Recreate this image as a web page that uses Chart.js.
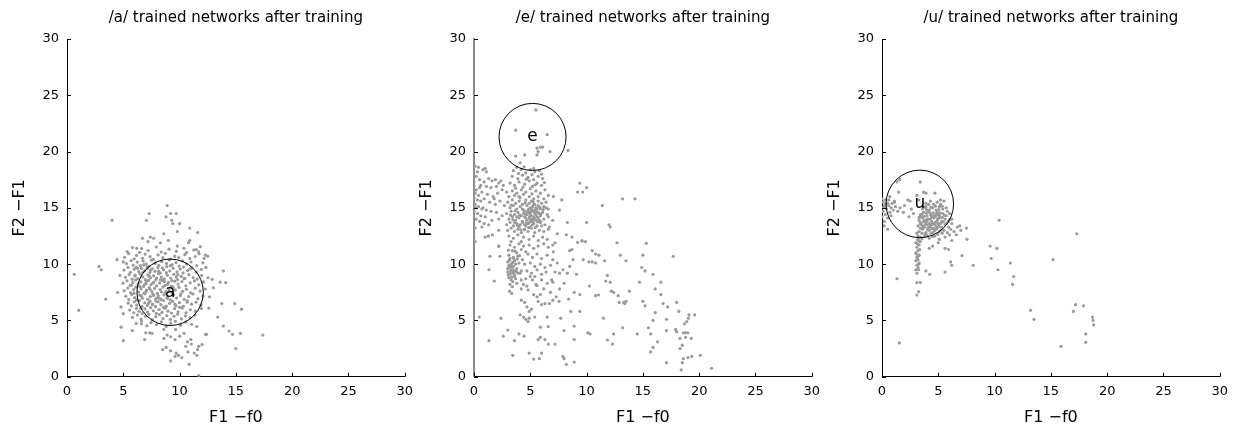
<!DOCTYPE html>
<html><head><meta charset="utf-8">
<script src="https://cdn.jsdelivr.net/npm/chart.js@4"></script>
<style>
body{margin:0;background:#fff;width:1236px;height:426px;overflow:hidden;position:relative}
canvas{position:absolute;top:0}
</style></head><body>
<canvas id="c0" width="420" height="426" style="left:0px"></canvas>
<canvas id="c1" width="420" height="426" style="left:407px"></canvas>
<canvas id="c2" width="420" height="426" style="left:815px"></canvas>
<script>
const titles = ['/a/ trained networks after training','/e/ trained networks after training','/u/ trained networks after training'];
const xLabel = 'F1 \u2212f0';
const yLabel = 'F2 \u2212F1';
const axisMin = 0, axisMax = 30, tickStep = 5;
const vowelLabels = ['a','e','u'];
const circleX = [9.16, 5.2, 3.36];
const circleY = [7.5, 21.3, 15.35];
const circleR = [2.95, 2.98, 3.0];

const aPoints = [
[8.9,15.2],[8.8,14.2],[9.2,14.5],[9.7,14.5],[9.3,13.9],[9.4,13.6],[10.0,13.6],[10.9,13.2],[11.6,12.8],[7.3,14.5],[7.05,13.9],[4.0,13.9],[12.5,10.7],[12.3,10.8],
[6.7,12.3],[7.4,12.4],[7.2,12.0],[7.7,12.3],[8.3,11.9],[9.0,12.1],[9.8,11.6],[10.8,11.9],[10.9,12.1],[11.5,11.3],[11.7,11.1],[6.2,11.4],[8.6,12.7],[9.8,12.9],
[5.35,11.12],[5.82,11.47],[6.46,11.05],[6.63,11.38],[7.21,11.21],[7.93,11.52],[8.37,11.08],[9.06,11.33],[9.71,11.14],[10.38,11.41],[10.62,11.02],[11.27,11.26],[11.84,11.55],
[5.12,10.61],[5.47,10.93],[5.96,10.48],[6.18,10.77],[6.71,10.52],[6.94,10.89],[7.38,10.66],[7.66,10.43],[8.09,10.82],[8.52,10.57],[8.73,10.96],[9.18,10.44],[9.57,10.71],[9.93,10.58],[10.46,10.85],[10.91,10.49],[11.39,10.68],[11.72,10.93],[12.18,10.51],
[5.28,10.05],[5.69,10.31],[5.87,9.92],[6.24,10.18],[6.52,9.86],[6.77,10.27],[7.03,10.02],[7.29,9.81],[7.51,10.35],[7.84,10.11],[8.16,9.89],[8.41,10.22],[8.83,10.06],[9.07,10.37],[9.34,9.95],[9.68,10.14],[9.96,9.83],[10.27,10.29],[10.63,10.01],[11.02,10.19],[11.53,9.87],[12.07,10.12],
[5.06,9.47],[5.41,9.71],[5.63,9.28],[5.97,9.55],[6.14,9.74],[6.38,9.33],[6.61,9.62],[6.89,9.41],[7.12,9.77],[7.36,9.25],[7.58,9.58],[7.82,9.36],[8.07,9.69],[8.29,9.22],[8.58,9.51],[8.86,9.78],[9.13,9.39],[9.42,9.64],[9.77,9.31],[10.05,9.57],[10.36,9.74],[10.72,9.43],[11.09,9.66],[11.48,9.29],[11.93,9.53],[12.34,9.71],
[5.19,8.83],[5.52,9.07],[5.78,8.66],[6.03,8.94],[6.27,8.71],[6.49,9.12],[6.73,8.87],[6.95,8.62],[7.18,9.03],[7.41,8.78],[7.69,8.96],[7.91,8.64],[8.13,9.15],[8.38,8.85],[8.64,8.69],[8.92,9.01],[9.21,8.77],[9.49,9.09],[9.82,8.63],[10.14,8.92],[10.47,8.74],[10.83,9.06],[11.21,8.81],[11.57,8.67],[11.96,8.98],[12.52,8.79],
[4.97,8.31],[5.33,8.52],[5.61,8.09],[5.84,8.37],[6.09,8.58],[6.32,8.14],[6.56,8.43],[6.79,8.02],[7.01,8.29],[7.24,8.55],[7.47,8.18],[7.73,8.41],[7.96,8.06],[8.22,8.33],[8.47,8.57],[8.71,8.12],[9.01,8.38],[9.26,8.04],[9.58,8.49],[9.87,8.23],[10.21,8.45],[10.56,8.08],[10.94,8.34],[11.33,8.51],[11.71,8.16],[12.13,8.42],
[5.08,7.63],[5.39,7.87],[5.64,7.46],[5.91,7.74],[6.12,7.95],[6.37,7.52],[6.58,7.81],[6.84,7.43],[7.06,7.69],[7.31,7.92],[7.54,7.57],[7.78,7.84],[8.03,7.41],[8.27,7.73],[8.52,7.96],[8.79,7.55],[9.04,7.82],[9.33,7.48],[9.62,7.71],[9.94,7.93],[10.28,7.58],[10.61,7.77],[10.97,7.45],[11.38,7.86],[11.82,7.61],[12.29,7.79],
[5.23,7.14],[5.49,6.86],[5.76,7.31],[6.01,7.02],[6.22,6.83],[6.47,7.24],[6.69,6.97],[6.93,7.36],[7.17,6.88],[7.39,7.11],[7.63,7.33],[7.88,6.91],[8.11,7.19],[8.36,6.84],[8.62,7.27],[8.89,7.04],[9.17,6.82],[9.46,7.29],[9.74,6.99],[10.07,7.21],[10.42,6.87],[10.81,7.12],[11.19,7.35],[11.63,6.93],[12.08,7.17],
[5.44,6.53],[5.71,6.29],[5.98,6.66],[6.19,6.38],[6.43,6.75],[6.66,6.24],[6.91,6.57],[7.14,6.33],[7.37,6.71],[7.62,6.46],[7.86,6.22],[8.09,6.64],[8.34,6.41],[8.58,6.77],[8.83,6.27],[9.11,6.52],[9.38,6.69],[9.67,6.31],[9.98,6.58],[10.33,6.26],[10.69,6.73],[11.06,6.44],[11.47,6.62],[11.89,6.35],
[5.57,5.92],[5.93,5.68],[6.17,6.07],[6.41,5.79],[6.68,5.61],[6.92,6.02],[7.16,5.74],[7.43,6.13],[7.67,5.86],[7.93,5.63],[8.18,5.97],[8.44,5.71],[8.72,6.09],[8.97,5.82],[9.28,5.66],[9.56,6.04],[9.87,5.77],[10.24,6.11],[10.58,5.69],[10.96,5.94],[11.42,5.81],[11.94,6.06],
[5.81,5.27],[6.26,5.48],[6.59,5.12],[6.97,5.36],[7.27,5.54],[7.58,5.07],[7.89,5.33],[8.21,5.51],[8.53,5.16],[8.86,5.42],[9.19,5.09],[9.51,5.38],[9.83,5.55],[10.17,5.13],[10.52,5.41],[10.93,5.22],[11.36,5.47],
[6.14,4.73],[6.62,4.94],[7.09,4.52],[7.47,4.81],[7.96,4.63],[8.39,4.88],[8.81,4.47],[9.22,4.76],[9.63,4.92],[10.08,4.58],[10.56,4.84],[11.07,4.66],[11.52,4.45],
[6.05,9.02],[6.33,8.27],[6.62,7.18],[6.81,9.93],[7.09,8.48],[7.26,6.53],[7.44,9.47],[7.71,7.22],[7.97,8.76],[8.24,6.93],[8.46,9.66],[8.68,7.38],[8.93,8.19],[6.17,6.79],[6.48,8.01],[6.74,9.28],[7.02,7.56],[7.33,8.91],[7.59,6.39],[7.82,10.06],[8.06,7.03],[8.31,8.62],[8.57,6.18],[8.82,9.24],[9.08,7.66],[9.31,8.53],[9.59,6.44],[9.85,9.07],[10.12,7.37],[10.39,8.71],[10.67,6.62],[10.93,9.58],[5.72,8.13],[5.95,7.42],[6.28,9.63],[6.55,6.07],[6.87,8.17],[7.13,9.61],[7.38,7.77],[7.64,8.34],[7.89,6.72],[8.14,9.38],[8.39,7.54],[8.65,8.44],[8.91,6.96],[9.17,9.86],[9.43,7.93],[9.71,8.86],[9.99,6.16],[10.31,9.22],
[4.8,4.4],[5.0,3.2],[5.0,5.6],[5.8,4.1],[6.9,3.3],[6.6,4.7],[7.0,3.9],[7.35,3.9],[7.55,3.85],[8.6,4.2],[8.9,3.7],[8.6,3.4],[9.2,3.55],[9.65,4.2],[10.0,3.6],[9.6,3.3],[8.8,2.6],[9.2,2.3],[9.7,2.1],[9.9,1.9],[9.2,1.4],[9.6,1.8],[10.4,3.85],[10.7,3.1],[10.55,2.7],[11.0,3.3],[11.05,2.9],[10.75,2.2],[11.3,2.1],[11.55,1.9],[11.6,2.4],[10.85,1.1],[11.7,2.7],[12.0,2.85],[12.4,3.76],[11.7,0.1],[8.5,2.4],[10.2,1.7],
[13.9,4.5],[14.7,3.76],[15.0,2.5],[15.4,3.85],[14.4,4.06],[13.4,5.3],[13.75,6.5],[14.9,6.5],[15.5,6.0],[13.6,8.4],[14.1,8.35],[13.9,9.4],[12.9,8.65],[13.0,7.9],[12.65,7.1],[12.6,6.1],[17.4,3.7],[12.3,3.76],
[0.65,9.1],[1.04,5.9],[2.84,9.8],[3.05,9.5],[3.44,6.9],[4.44,10.4],[4.7,9.0],[4.5,7.5],[4.8,6.2],[5.0,10.2]
];

const ePoints = [
[5.5,23.7],[3.7,21.9],[6.5,21.5],[5.6,20.3],[5.9,20.4],[6.1,20.4],[5.7,20.0],[6.75,20.0],[8.35,20.1],[4.5,19.7],[3.7,19.6],[4.1,19.0],[5.3,18.5],[5.6,19.7],
[0.1,18.7],[0.4,18.6],[0.3,18.2],[0.8,18.4],[1.0,18.5],[1.1,18.2],[0.2,17.8],[0.5,17.5],[0.9,17.3],[1.3,17.6],[1.6,17.4],[1.9,17.5],[2.2,17.2],[2.4,17.4],[2.6,17.0],[2.0,16.9],[1.5,16.8],[1.1,16.9],[0.6,17.0],[0.2,16.6],[0.1,16.3],[0.4,16.1],[0.7,16.4],[1.2,16.2],[1.7,16.0],[2.1,16.3],[2.5,16.6],[2.9,16.4],[0.0,15.9],[0.3,15.7],[0.6,15.6],[0.9,15.8],[1.4,15.5],[1.9,15.3],[2.3,15.6],[2.7,15.2],[0.1,15.3],[0.4,15.1],[0.8,15.0],[1.1,14.8],[1.5,14.7],[2.0,14.6],[0.0,14.7],[0.3,14.5],[0.6,14.3],[1.0,14.2],[0.2,14.0],[0.5,13.8],[0.9,13.6],[1.3,13.5],[0.7,13.3],[0.1,13.2],[1.6,13.9],[2.2,14.0],[2.5,14.3],[0.0,12.4],[0.1,12.0],[1.0,12.4],[1.3,12.5],[2.2,13.0],[2.2,11.6],[0.0,16.9],[0.0,17.3],[0.2,15.0],[0.5,16.8],[1.8,15.8],[0.7,14.9],
[3.5,18.3],[3.8,18.6],[4.2,18.4],[4.6,18.1],[5.0,18.4],[5.4,18.2],[5.8,18.3],[6.0,18.0],[3.4,17.8],[3.9,17.6],[4.3,17.9],[4.8,17.7],[5.3,17.5],[5.7,17.8],[6.1,17.6],[3.2,17.2],[3.6,17.0],[4.0,17.3],[4.5,17.1],[4.9,17.4],[5.2,16.9],[5.6,17.2],[6.0,17.0],[3.4,16.5],[3.8,16.3],[4.2,16.6],[4.6,16.4],[5.0,16.7],[5.5,16.5],[5.9,16.3],[6.3,16.6],[3.1,16.0],[3.6,16.1],[4.1,15.9],[4.4,16.2],[4.9,16.0],[5.3,15.8],[5.7,16.0],[6.2,15.8],[6.6,16.1],
[3.0,15.5],[3.4,15.7],[3.7,15.4],[4.0,15.6],[4.3,15.3],[4.6,15.7],[4.9,15.4],[5.1,15.6],[5.4,15.3],[5.7,15.6],[6.0,15.4],[6.4,15.5],
[3.2,15.0],[3.5,15.2],[3.8,14.9],[4.1,15.1],[4.4,14.8],[4.7,15.2],[4.9,14.9],[5.2,15.1],[5.4,14.8],[5.7,15.2],[5.9,14.9],[6.2,15.1],[6.6,14.9],
[2.9,14.5],[3.3,14.7],[3.6,14.4],[3.9,14.6],[4.2,14.3],[4.5,14.7],[4.7,14.4],[4.9,14.6],[5.1,14.3],[5.3,14.7],[5.5,14.4],[5.7,14.6],[5.9,14.3],[6.1,14.6],[6.5,14.4],
[3.1,14.0],[3.4,14.2],[3.7,13.9],[4.0,14.1],[4.3,13.8],[4.5,14.2],[4.7,13.9],[4.9,14.1],[5.1,13.8],[5.3,14.2],[5.5,13.9],[5.7,14.1],[5.9,13.8],[6.2,14.0],[6.6,14.2],[7.0,13.9],
[2.9,13.5],[3.2,13.7],[3.5,13.4],[3.8,13.6],[4.0,13.3],[4.3,13.7],[4.6,13.4],[4.8,13.6],[5.0,13.3],[5.3,13.6],[5.6,13.4],[5.9,13.7],[6.3,13.5],[6.7,13.3],
[3.0,13.0],[3.3,13.2],[3.6,12.9],[3.9,13.1],[4.2,12.8],[4.5,13.1],[4.8,12.9],[5.1,13.2],[5.4,12.8],[5.8,13.0],[6.2,12.9],[6.6,13.1],
[4.8,14.8],[5.0,14.5],[5.2,14.0],[5.4,14.5],[5.6,14.9],[5.8,14.5],[5.0,15.0],[5.3,15.3],[5.6,14.2],[5.1,14.7],[4.6,14.1],[4.4,14.5],[5.5,15.0],[5.8,13.9],[4.9,13.7],[5.2,13.5],[4.5,13.5],[4.1,13.5],[3.8,14.2],[3.6,13.7],
[4.3,14.9],[4.55,14.45],[4.75,14.65],[4.95,14.25],[5.15,14.85],[5.35,14.05],[5.55,14.65],[5.75,13.85],[5.95,14.45],[6.15,14.85],[4.65,13.65],[4.85,13.25],[5.05,13.95],[5.25,13.75],[5.45,13.25],[5.65,13.75],[4.45,13.05],[4.05,14.35],[3.85,13.45],[3.45,13.95],[3.25,14.35],[3.65,14.75],[4.15,13.05],[5.85,15.05],[4.55,15.45],[5.25,15.55],
[3.7,16.75],[4.35,16.85],[5.15,16.25],[5.45,17.05],[4.65,17.55],[3.95,18.05],[4.45,18.65],[5.15,17.95],[6.25,17.25],[4.0,16.0],[3.3,15.25],[6.4,15.0],[6.0,13.4],
[3.1,12.5],[3.5,12.3],[3.9,12.6],[4.4,12.4],[4.9,12.2],[5.3,12.5],[5.7,12.1],[6.1,12.4],[6.5,12.2],[3.3,12.0],[4.2,12.0],
[3.2,11.7],[3.6,11.5],[4.0,11.8],[4.4,11.6],[3.4,11.2],[3.8,11.0],[4.2,11.3],[4.6,11.1],[3.1,10.8],[3.5,10.6],[3.9,10.7],[4.3,10.4],[3.0,10.2],[3.3,10.0],[3.6,10.3],[4.0,10.1],[4.5,10.0],[3.1,9.7],[3.3,9.5],[3.5,9.8],[3.8,9.6],[4.2,9.4],[3.0,9.3],[3.2,9.1],[3.4,9.3],[3.6,9.0],[3.9,9.2],[3.1,8.8],[3.3,8.6],[3.7,8.7],[3.2,8.2],[3.4,8.0],[3.15,7.6],[3.35,7.4],[3.1,9.9],[3.4,9.7],[3.7,10.0],[3.2,10.5],[3.5,9.2],[3.0,9.6],
[3.25,9.85],[3.45,10.15],[3.15,10.35],[3.55,10.45],[3.05,9.05],[3.35,8.85],[3.55,9.45],[3.75,9.35],[3.25,9.35],[3.45,8.45],[3.65,11.15],[3.85,10.45],[3.05,11.25],[4.05,10.75],
[4.9,11.7],[5.3,11.4],[5.7,11.6],[6.2,11.8],[6.6,11.5],[7.0,11.7],[4.8,10.9],[5.2,10.6],[5.6,10.9],[6.0,10.5],[6.5,10.8],[7.0,10.4],[5.0,10.1],[5.4,9.8],[5.9,10.0],[6.3,9.7],[6.8,9.9],[4.7,9.4],[5.1,9.2],[5.6,9.5],[6.0,9.1],[6.4,9.3],[4.6,8.7],[5.0,8.9],[5.2,8.6],[5.5,8.2],[6.0,8.6],[6.5,8.3],[6.9,8.6],[4.2,8.6],[4.4,8.2],[4.7,8.05],[4.8,7.7],[5.4,8.9],[5.6,8.1],[3.6,8.9],[3.8,8.3],[4.1,9.2],[4.2,7.8],
[5.3,7.3],[5.6,7.1],[5.9,7.3],[5.7,6.7],[6.0,6.4],[6.3,6.5],[4.2,6.8],[4.5,6.6],[4.7,6.2],[4.9,5.8],[5.1,6.0],[4.1,5.5],[4.4,5.3],[4.6,5.1],[4.9,5.2],[5.4,5.3],[6.5,5.3],[6.6,4.45],[4.8,4.9],[5.9,4.4],[7.0,6.8],[6.7,6.5],[7.55,6.7],[7.0,8.4],[7.2,9.3],[7.4,10.1],[7.05,11.1],[7.2,11.9],[7.4,12.7],[8.2,12.6],[8.5,11.2],[8.7,11.3],[8.5,9.8],[7.9,9.5],[7.6,9.2],[8.3,9.2],[8.9,7.5],[9.4,7.3],[4.0,3.8],[4.45,3.6],[3.6,3.2],[3.44,1.9],[4.9,2.1],[5.3,1.57],[5.8,1.6],[6.0,2.1],[5.7,3.3],[5.9,3.5],[6.6,2.9],[7.9,1.8],[8.0,1.6],[8.2,1.1],[8.9,1.3],[8.9,3.3],[8.9,4.5],[8.6,5.8],[9.4,5.8],[3.0,4.15],[2.6,3.6],[1.33,3.2],[0.47,5.3],[2.4,5.2],[1.8,8.5],[1.33,9.5],[1.42,10.7],[2.3,10.7],[1.27,12.5],[1.63,12.6],[2.2,11.6],
[10.1,3.9],[10.3,3.8],[11.5,5.2],[11.85,3.26],[12.3,2.9],[12.4,3.8],[13.2,4.35],[14.5,3.8],[15.5,4.35],[15.7,3.8],[15.9,5.0],[16.1,5.7],[16.3,3.1],[15.9,2.6],[15.7,2.2],[17.1,5.1],[17.1,4.1],[17.1,1.25],[16.8,6.5],[17.2,6.2],[18.0,6.6],[18.2,5.8],[17.9,4.2],[18.0,4.0],[18.3,3.4],[18.5,2.8],[18.3,2.5],[18.6,3.9],[18.8,3.9],[19.0,3.9],[18.8,3.5],[19.3,3.4],[18.7,4.7],[18.9,4.9],[19.05,5.2],[19.1,5.5],[19.6,5.5],[18.6,1.6],[18.5,1.25],[18.4,0.6],[19.0,1.7],[19.35,1.8],[20.1,1.9],[21.1,0.75],
[12.7,11.9],[15.3,11.85],[17.7,10.7],[15.0,10.8],[14.9,9.7],[15.2,9.4],[15.9,9.1],[16.6,8.4],[14.7,8.4],[16.1,7.8],[16.6,7.3],[15.0,6.7],[15.2,6.3],[13.8,7.6],[13.5,6.7],[13.4,6.5],[12.9,6.6],[13.3,6.6],[12.8,7.2],[12.4,7.5],[12.2,7.6],[12.1,8.4],[11.7,8.5],[11.85,9.0],[11.6,10.3],[10.5,11.2],[10.8,10.9],[11.1,10.8],[10.8,10.1],[10.5,10.2],[10.2,10.2],[11.05,7.26],[10.8,7.2],[10.25,8.05],[9.7,10.4],[9.9,12.0],[9.6,12.05],[9.2,11.94],[13.0,10.8],[13.5,10.3],[8.7,12.4],[9.6,12.1],[10.0,13.7],[8.3,13.7],[7.6,14.8],[7.05,16.0],[7.8,15.7],[9.4,17.2],[9.2,16.4],[9.66,16.4],[10.0,16.8],[11.4,15.2],[13.2,15.8],[14.3,15.8],[12.0,13.5],[12.1,13.3],[8.8,10.4],[9.1,9.1],[8.0,8.3],[8.4,6.9],[7.6,7.8],[7.3,7.1],[6.2,7.8],[6.8,7.5],[7.7,5.2],[8.0,4.1],[6.3,3.3],[7.2,2.9]
];

const uPoints = [
[0.0,15.8],[0.1,15.5],[0.3,15.7],[0.5,15.4],[0.2,15.1],[0.4,14.9],[0.6,15.2],[0.8,15.0],[0.1,14.7],[0.3,14.4],[0.7,14.6],[1.0,14.8],[0.5,14.1],[0.2,13.8],[0.0,14.2],[0.9,15.4],[1.2,15.1],[1.4,14.7],[0.6,15.7],[0.3,15.3],[0.0,15.0],[0.8,14.3],[1.6,15.0],[1.9,14.6],[0.2,13.4],[0.5,13.1],[1.1,15.6],[0.7,16.0],[1.33,17.3],[1.57,17.5],[1.48,16.4],[1.1,15.5],[2.3,15.7],[2.5,15.6],[3.1,16.1],[3.7,16.4],[3.9,16.3],[3.25,15.7],[2.4,14.2],[2.8,14.5],[4.7,16.3],[5.2,15.7],[3.4,17.3],[2.0,15.2],[2.6,14.9],
[3.9,15.4],[4.3,15.6],[4.6,15.3],[4.9,15.5],[5.2,15.3],[5.5,15.6],
[3.6,14.9],[3.9,15.1],[4.2,14.8],[4.5,15.0],[4.8,14.8],[5.1,15.1],[5.4,14.9],[5.7,15.0],
[3.4,14.4],[3.7,14.6],[4.0,14.3],[4.3,14.5],[4.6,14.3],[4.9,14.6],[5.1,14.3],[5.4,14.5],[5.7,14.3],[6.0,14.5],
[3.3,13.9],[3.6,14.1],[3.9,13.8],[4.1,14.0],[4.4,13.8],[4.6,14.1],[4.9,13.9],[5.1,14.1],[5.3,13.8],[5.6,14.0],[5.9,13.8],[6.2,14.0],
[3.2,13.4],[3.5,13.6],[3.8,13.3],[4.0,13.5],[4.3,13.3],[4.5,13.6],[4.8,13.4],[5.0,13.6],[5.3,13.3],[5.6,13.5],[5.9,13.3],[6.2,13.6],
[3.3,12.9],[3.6,13.1],[3.9,12.8],[4.2,13.0],[4.5,12.8],[4.8,13.1],[5.1,12.9],[5.5,13.0],[5.8,12.8],[6.1,13.1],
[3.4,12.4],[3.8,12.5],[4.2,12.3],[4.7,12.5],[5.1,12.2],[5.6,12.4],[6.0,12.6],[3.2,12.1],
[4.0,14.0],[4.2,13.6],[4.4,14.2],[4.7,13.7],[3.8,13.9],[4.6,13.2],[4.1,13.2],[3.7,13.8],[4.8,14.4],[4.3,14.0],[3.5,14.2],[4.9,13.2],[5.2,13.6],[5.0,14.4],[4.0,13.8],[3.6,13.4],[4.4,13.5],[3.4,13.7],
[3.55,14.45],[3.75,14.25],[3.95,14.55],[4.15,14.65],[4.35,14.35],[4.55,14.55],[4.75,14.25],[4.95,14.05],[5.15,14.55],[5.35,14.15],[5.55,14.35],[3.45,13.55],[3.65,13.25],[3.85,13.55],[4.05,13.05],[4.25,13.35],[4.45,13.15],[4.65,13.55],[4.85,13.75],[5.05,13.35],[5.25,13.05],[5.45,13.75],[5.75,13.65],[3.55,12.75],[3.85,12.65],[4.35,12.75],[4.65,12.95],[4.95,12.65],[5.35,12.75],[3.95,14.85],[4.35,15.05],[4.75,15.15],[5.05,14.85],[5.35,15.15],[3.75,15.05],[4.15,15.3],[5.8,14.7],[6.0,13.95],[3.3,14.15],[3.4,13.2],[4.0,12.55],[4.5,12.45],[3.55,12.25],[3.2,12.5],[3.1,12.75],
[3.2,12.2],[3.0,11.9],[3.3,11.7],[3.1,11.5],[3.2,11.2],[3.0,11.0],[3.3,10.8],[3.1,10.6],[3.2,10.4],[3.0,10.3],[3.3,10.1],[3.1,9.9],[3.2,9.7],[3.0,9.5],[3.26,9.5],[3.1,9.2],[3.1,8.36],[3.4,8.36],[3.1,7.26],[3.26,7.55],[3.2,10.7],[3.35,11.3],[3.05,10.9],[3.25,10.0],[3.15,11.8],[3.4,12.0],
[3.9,9.4],[4.24,9.1],[1.33,8.7],[1.54,3.0],[5.6,11.4],[5.9,11.3],[6.2,12.1],[6.6,12.6],[7.0,13.0],[6.9,13.4],[7.5,13.2],[7.55,12.2],[7.1,10.75],[6.1,10.2],[6.2,9.9],[5.6,9.3],[8.1,9.9],[9.6,11.6],[10.2,11.4],[10.4,13.9],[9.7,10.5],[10.3,9.5],[11.4,10.1],[11.7,8.9],[11.6,8.2],[15.2,10.4],[17.3,12.7],[13.2,5.9],[13.5,5.1],[15.9,2.7],[17.2,6.4],[17.0,5.8],[17.9,6.3],[18.7,5.3],[18.75,5.0],[18.8,4.6],[18.1,3.8],[18.1,3.05],[4.5,11.6],[5.0,11.9],[6.4,12.9],[6.7,13.3],[4.2,11.4]
];

const panelPoints = [aPoints, ePoints, uPoints];
const yAxisColors = ['#000000', '#8c8c8c', '#000000'];
const yAxisWidths = [1, 2, 1];

Chart.defaults.font.family = 'DejaVu Sans';
Chart.defaults.color = '#000';

const decor = {
  id: 'decor',
  afterDatasetsDraw(chart, args, opts) {
    const {ctx, scales: {x, y}} = chart;
    ctx.save();
    ctx.strokeStyle = '#000';
    ctx.lineWidth = 1;
    x.ticks.forEach(t => {
      const px = Math.round(x.getPixelForValue(t.value)) + 0.5;
      ctx.beginPath(); ctx.moveTo(px, y.bottom); ctx.lineTo(px, y.bottom - 4); ctx.stroke();
    });
    y.ticks.forEach(t => {
      const py = Math.round(y.getPixelForValue(t.value)) + 0.5;
      ctx.beginPath(); ctx.moveTo(x.left, py); ctx.lineTo(x.left + 4, py); ctx.stroke();
    });
    const cx = x.getPixelForValue(opts.cx), cy = y.getPixelForValue(opts.cy);
    const r = x.getPixelForValue(opts.cx + opts.r) - cx;
    ctx.beginPath(); ctx.arc(cx, cy, r, 0, Math.PI * 2); ctx.stroke();
    ctx.fillStyle = '#000';
    ctx.font = '17px "DejaVu Sans"';
    ctx.textAlign = 'center';
    ctx.textBaseline = 'middle';
    ctx.fillText(opts.label, cx, cy);
    ctx.restore();
  }
};

for (let i = 0; i < 3; i++) {
  new Chart(document.getElementById('c' + i), {
    type: 'scatter',
    data: { datasets: [{
      data: panelPoints[i].map(p => ({x: p[0], y: p[1]})),
      backgroundColor: '#9a9a9a', borderWidth: 0, pointRadius: 1.6, pointHoverRadius: 1.6
    }]},
    plugins: [decor],
    options: {
      responsive: false, animation: false, events: [],
      layout: { padding: { left: 0, right: 0, top: 0, bottom: 0 } },
      plugins: {
        legend: { display: false }, tooltip: { enabled: false },
        title: { display: true, text: titles[i], fullSize: false, font: { size: 15, weight: 'normal', lineHeight: 1.2 }, padding: { top: 9, bottom: 12 }, color: '#000' },
        decor: { cx: circleX[i], cy: circleY[i], r: circleR[i], label: vowelLabels[i] }
      },
      scales: {
        x: {
          type: 'linear', min: axisMin, max: axisMax,
          ticks: { stepSize: tickStep, padding: 7, font: { size: 13 }, maxRotation: 0 },
          grid: { display: false, drawTicks: false },
          border: { display: true, color: '#000', width: 1 },
          title: { display: true, text: xLabel, font: { size: 16, lineHeight: 1 }, padding: { top: 0, bottom: 0 } },
          afterFit(s) { s.height = 49.3; }
        },
        y: {
          type: 'linear', min: axisMin, max: axisMax,
          ticks: { stepSize: tickStep, padding: 8, font: { size: 13 } },
          grid: { display: false, drawTicks: false },
          border: { display: true, color: yAxisColors[i], width: yAxisWidths[i] },
          title: { display: true, text: yLabel, font: { size: 16, lineHeight: 1 }, padding: { top: 12, bottom: 0 } },
          afterFit(s) { s.width = 67; }
        }
      }
    }
  });
}
</script>
</body></html>
